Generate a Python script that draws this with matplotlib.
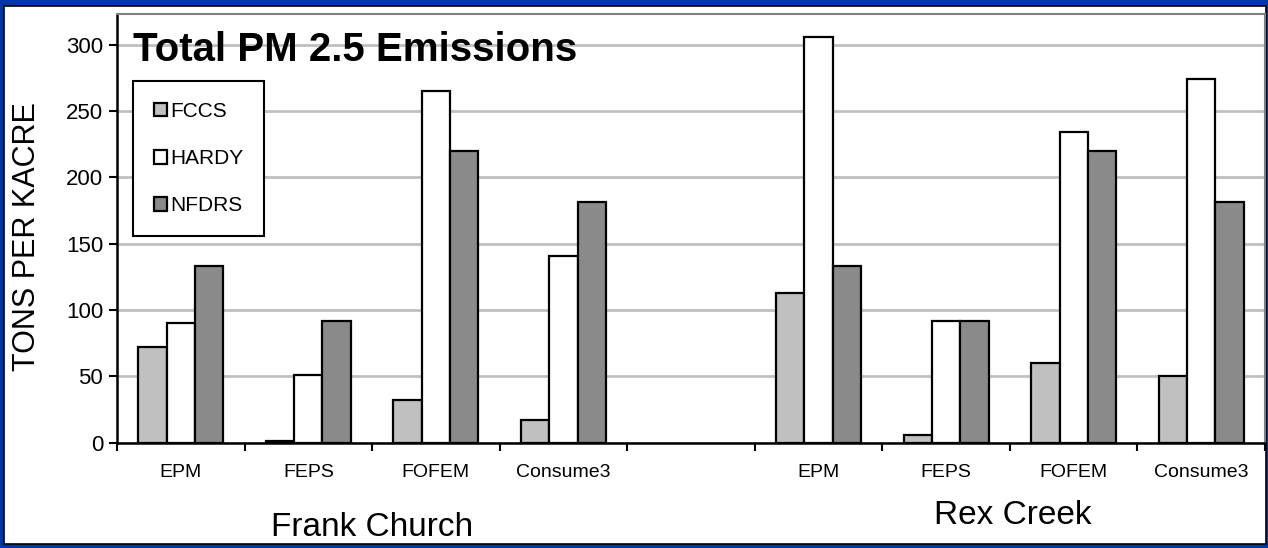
import numpy as np
import matplotlib
matplotlib.use("Agg")
import matplotlib.pyplot as plt
from matplotlib.patches import Rectangle

plt.rcParams['font.family'] = ['Liberation Sans', 'DejaVu Sans']

# data
categories = ["EPM", "FEPS", "FOFEM", "Consume3", "", "EPM", "FEPS", "FOFEM", "Consume3"]
sites = ["Frank Church", "Rex Creek"]
fccs = [72, 1, 32, 17, np.nan, 113, 6, 60, 50]
hardy = [90, 51, 265, 141, np.nan, 306, 92, 234, 274]
nfdrs = [133, 92, 220, 181, np.nan, 133, 92, 220, 181]

series = [("FCCS", fccs, "#c0c0c0"),
          ("HARDY", hardy, "#ffffff"),
          ("NFDRS", nfdrs, "#8a8a8a")]

W, H = 1268, 548
fig = plt.figure(figsize=(W / 100, H / 100), dpi=100)
fig.patch.set_facecolor("#0036a8")
# white panel inside the blue frame
fig.patches.append(Rectangle((4 / W, 4 / H), (W - 2) / W - 4 / W, (H - 6) / H - 4 / H,
                             transform=fig.transFigure, facecolor="white",
                             edgecolor="black", linewidth=1.2, zorder=-10))

ax = fig.add_axes([117 / W, (H - 442.7) / H, (1265 - 117) / W, (442.7 - 14) / H])
ax.set_facecolor("white")

x = np.arange(len(categories))
bw = 0.222
for i, (name, vals, col) in enumerate(series):
    ax.bar(x + (i - 1) * bw, vals, bw, color=col, edgecolor="black",
           linewidth=1.6, label=name, zorder=3)

ax.set_xlim(-0.5, len(categories) - 0.5)
ax.set_ylim(0, 323)
ax.set_yticks(np.arange(0, 301, 50))
ax.yaxis.grid(True, color="#c0c0c0", linewidth=2, zorder=0)
ax.set_axisbelow(True)

# category boundaries get tick marks, labels sit between them
ax.set_xticks(np.arange(-0.5, len(categories), 1.0))
ax.set_xticklabels([])
ax.set_xticks(x, minor=True)
ax.set_xticklabels(categories, minor=True, fontsize=14)
ax.tick_params(axis="x", which="minor", length=0, pad=15)
ax.tick_params(axis="x", which="major", length=6, width=1.5, direction="out")
ax.tick_params(axis="y", length=6, width=1.5, direction="out", labelsize=16, pad=4)

for s in ["top", "right"]:
    ax.spines[s].set_color("#808080")
    ax.spines[s].set_linewidth(1.5)
for s in ["left", "bottom"]:
    ax.spines[s].set_color("black")
    ax.spines[s].set_linewidth(1.8)

fig.text(27 / W, 1 - 237 / H, "TONS PER KACRE", rotation=90, fontsize=22,
         ha="center", va="center")

ax.text(133 / W, 1 - 50 / H, "Total PM 2.5 Emissions", transform=fig.transFigure,
        fontsize=29, fontweight="bold", ha="left", va="center", zorder=5)

# site labels under the category groups
fig.text(372 / W, 1 - 527 / H, sites[0], fontsize=24, ha="center", va="center")
fig.text(1013 / W, 1 - 516 / H, sites[1], fontsize=24, ha="center", va="center")

leg = ax.legend(loc="upper left", bbox_to_anchor=(133 / W, 1 - 81 / H),
                bbox_transform=fig.transFigure, fontsize=15, frameon=True,
                fancybox=False, framealpha=1, edgecolor="black",
                handlelength=0.65, handleheight=0.65, handletextpad=0.15,
                labelspacing=1.35, borderpad=1.0, borderaxespad=0)
leg.get_frame().set_linewidth(1.5)
leg.set_zorder(6)

fig.savefig("out.png", dpi=100, facecolor=fig.get_facecolor())
